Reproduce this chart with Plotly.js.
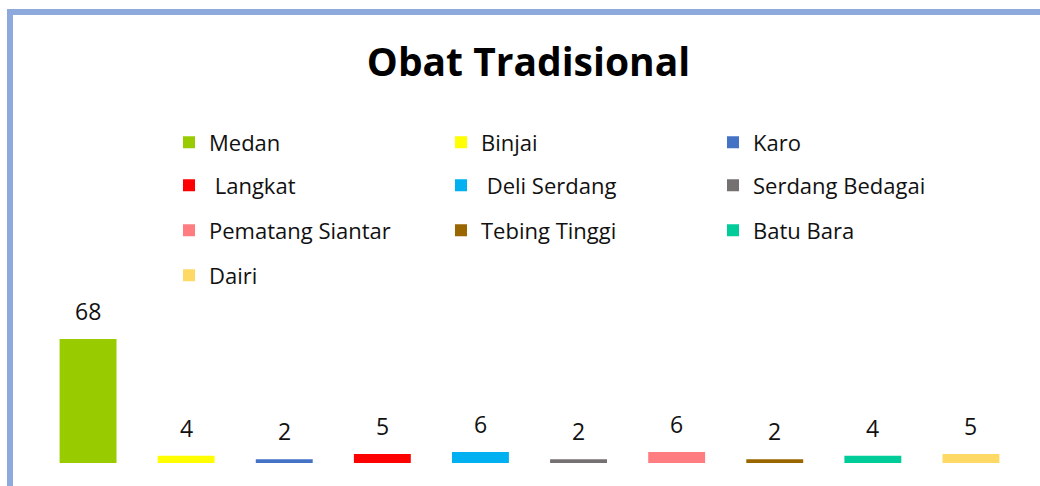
<!DOCTYPE html>
<html>
<head>
<meta charset="utf-8">
<script src="https://cdn.plot.ly/plotly-3.0.1.min.js"></script>
<style>html,body{margin:0;padding:0;background:#fff;}#chart{width:1040px;height:486px;}</style>
</head>
<body>
<div id="chart"></div>
<script>
const categories = ["Medan","Binjai","Karo","Langkat","Deli Serdang","Serdang Bedagai","Pematang Siantar","Tebing Tinggi","Batu Bara","Dairi"];
const legendNames = ["Medan","Binjai","Karo","\u00a0Langkat","\u00a0Deli Serdang","Serdang Bedagai","Pematang Siantar","Tebing Tinggi","Batu Bara","Dairi"];
const values = [68, 4, 2, 5, 6, 2, 6, 2, 4, 5];
const colors = ["#99CC00","#FFFF00","#4472C4","#FF0000","#00B0F0","#767171","#FF7C80","#996600","#00CC99","#FFD966"];
const legendRows = ["legend","legend","legend","legend2","legend2","legend2","legend3","legend3","legend3","legend4"];

const W = 1040, H = 486;
const mL = 39, mR = 20, mT = 286, mB = 23;
const plotW = W - mL - mR, plotH = H - mT - mB;
const pxPerUnit = 1.8235;
const yMax = plotH / pxPerUnit;
const px2paperX = px => (px - mL) / plotW;
const py2paperY = py => (H - mB - py) / plotH;

const traces = categories.map((c, i) => ({
  type: 'bar',
  x: [c],
  y: [values[i]],
  name: legendNames[i],
  legend: legendRows[i],
  width: 0.58,
  marker: {color: colors[i], line: {width: 0}},
  hoverinfo: 'x+y'
}));

const annotations = categories.map((c, i) => ({
  x: c, y: values[i], xref: 'x', yref: 'y',
  text: String(values[i]), showarrow: false,
  yanchor: 'bottom', yshift: 10,
  font: {family: 'Open Sans', size: 23, color: '#111'}
}));

const rowY = [142.5, 185.5, 230.5, 275.5];
const legFont = {family: 'Open Sans', size: 22, color: '#111'};
function mkLegend(row) {
  return {
    orientation: 'h', x: px2paperX(169), xanchor: 'left',
    y: py2paperY(rowY[row]), yanchor: 'middle',
    font: legFont, entrywidth: 227, entrywidthmode: 'pixels',
    bgcolor: 'rgba(0,0,0,0)', borderwidth: 0, traceorder: 'normal'
  };
}

const layout = {
  width: W, height: H,
  margin: {l: mL, r: mR, t: mT, b: mB, pad: 0},
  paper_bgcolor: '#fff', plot_bgcolor: '#fff',
  barmode: 'overlay',
  showlegend: true,
  title: {
    text: '<b>Obat Tradisional</b>',
    font: {family: 'Open Sans', size: 39, color: '#000'},
    x: 528.5 / W, xanchor: 'center', xref: 'container',
    y: 1 - 62 / H, yanchor: 'middle', yref: 'container'
  },
  xaxis: {type: 'category', categoryarray: categories, showticklabels: false, showgrid: false, zeroline: false, showline: false, ticks: '', range: [-0.5, categories.length - 0.5], fixedrange: true},
  yaxis: {range: [0, yMax], showticklabels: false, showgrid: false, zeroline: false, showline: false, ticks: '', fixedrange: true},
  legend: mkLegend(0), legend2: mkLegend(1), legend3: mkLegend(2), legend4: mkLegend(3),
  annotations: annotations,
  shapes: [{
    type: 'rect', xref: 'paper', yref: 'paper', layer: 'above',
    x0: px2paperX(10), x1: px2paperX(1100), y0: py2paperY(600), y1: py2paperY(12),
    line: {color: '#8EA9DB', width: 6}, fillcolor: 'rgba(0,0,0,0)'
  }]
};

Plotly.newPlot('chart', traces, layout, {displayModeBar: false, staticPlot: true});
</script>
</body>
</html>
